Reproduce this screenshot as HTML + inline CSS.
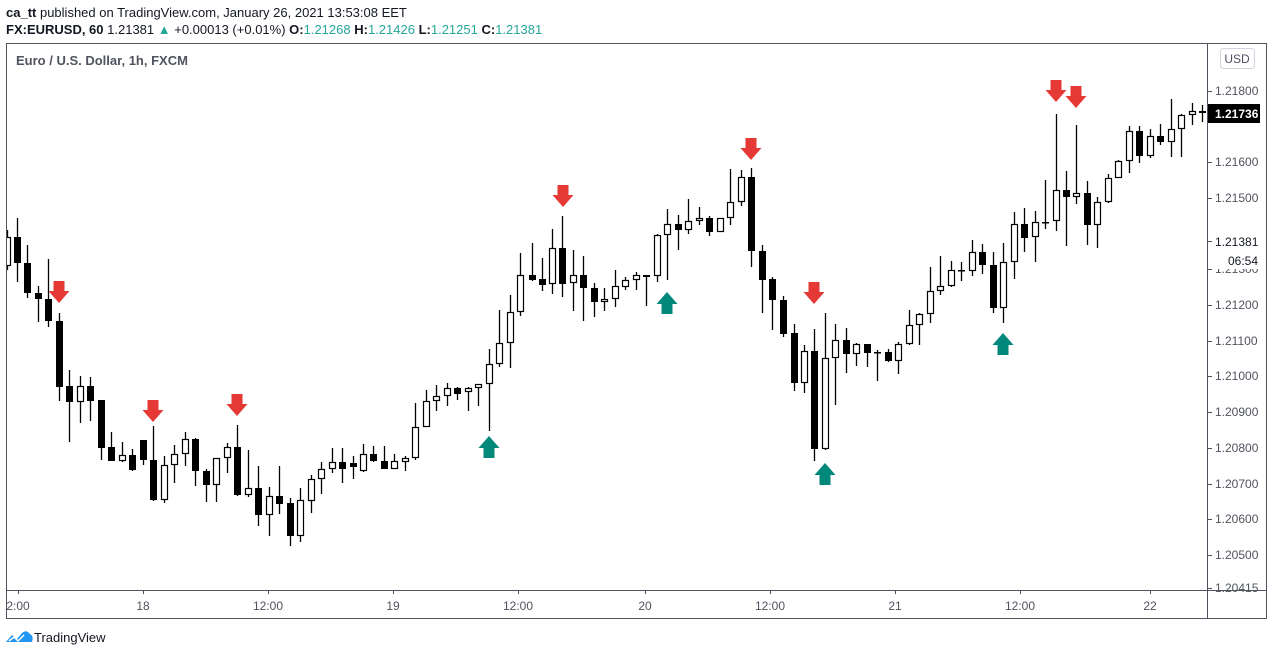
<!DOCTYPE html>
<html><head><meta charset="utf-8"><style>
html,body{margin:0;padding:0;background:#fff;width:1274px;height:656px;overflow:hidden}
svg{display:block}
text{font-family:"Liberation Sans",sans-serif}
</style></head><body>
<svg id="s" width="1274" height="656" xmlns="http://www.w3.org/2000/svg">
<defs><clipPath id="cp"><rect x="7" y="44" width="1200" height="546"/></clipPath></defs>
<text x="6" y="17" font-size="13" fill="#131722"><tspan font-weight="bold">ca_tt</tspan> published on TradingView.com, January 26, 2021 13:53:08 EET</text>
<text x="6" y="34" font-size="13" fill="#131722"><tspan font-weight="bold">FX:EURUSD, 60</tspan> 1.21381 <tspan fill="#26a69a">▲</tspan> +0.00013 (+0.01%) <tspan font-weight="bold">O:</tspan><tspan fill="#26a69a">1.21268</tspan> <tspan font-weight="bold">H:</tspan><tspan fill="#26a69a">1.21426</tspan> <tspan font-weight="bold">L:</tspan><tspan fill="#26a69a">1.21251</tspan> <tspan font-weight="bold">C:</tspan><tspan fill="#26a69a">1.21381</tspan></text>
<rect x="6.5" y="43.5" width="1260" height="575" fill="none" stroke="#50535e" stroke-width="1"/>
<line x1="6.5" y1="590.5" x2="1266.5" y2="590.5" stroke="#50535e"/>
<line x1="1207.5" y1="43.5" x2="1207.5" y2="618.5" stroke="#50535e"/>
<text x="16" y="65" font-size="13" font-weight="bold" fill="#50535e">Euro / U.S. Dollar, 1h, FXCM</text>
<g id="c" clip-path="url(#cp)"></g>
<g id="ax" font-size="12" fill="#50535e"></g>
<rect x="1220.5" y="48.5" width="34" height="20" rx="3" fill="#fff" stroke="#d1d4dc"/>
<text x="1237" y="63" font-size="12" fill="#50535e" text-anchor="middle">USD</text>
<rect x="1208" y="104" width="52" height="19" fill="#000"/>
<text x="1215" y="118" font-size="12" font-weight="bold" fill="#fff">1.21736</text>
<rect x="1208" y="231" width="56" height="38" fill="#fff"/>
<line x1="1207" y1="241.5" x2="1212" y2="241.5" stroke="#50535e"/>
<text x="1215" y="246" font-size="12" fill="#131722">1.21381</text>
<text x="1228" y="265" font-size="12" fill="#131722">06:54</text>
<g transform="translate(6,630)"><path d="M0 12 L6 5 L11 9 L16 3 Q20 -1 24 4 Q28 6 26 12 Z" fill="#2196f3"/><path d="M3 11 L8 7 L12 11 L18 5" stroke="#fff" stroke-width="1.5" fill="none"/></g>
<text x="34" y="642" font-size="13" fill="#131722">TradingView</text>
</svg>
<script>
const C=[[7,230,237,266,270,0],[17,218,237,263,282,1],[27,245,263,293,298,1],[38,286,293,299,322,1],[48,259,299,321,327,1],[59,313,321,387,401,1],[69,370,386,402,442,1],[80,376,386,402,423,0],[90,377,386,401,421,1],[101,400,400,448,460,1],[111,432,447,461,460,1],[122,442,455,461,462,0],[132,449,455,470,471,1],[143,440,440,460,465,1],[153,426,460,500,501,1],[164,456,465,500,503,0],[174,445,454,465,483,0],[185,432,439,454,466,0],[195,438,439,471,486,1],[206,469,471,485,502,1],[216,458,458,485,502,0],[227,443,447,458,473,0],[237,425,447,495,496,1],[248,450,488,495,497,0],[258,466,488,515,526,1],[269,487,496,515,536,0],[279,466,496,504,514,1],[290,498,503,536,546,1],[300,488,500,536,542,0],[311,475,479,501,513,0],[321,462,469,479,494,0],[332,448,462,469,473,0],[342,448,462,469,483,1],[353,456,463,467,479,1],[363,444,454,471,472,0],[373,446,454,461,462,1],[384,446,461,469,469,1],[394,454,461,469,469,0],[405,456,458,462,471,0],[415,403,427,458,460,0],[426,390,401,427,427,0],[436,385,396,401,411,0],[447,383,388,396,406,0],[457,387,388,394,400,1],[468,387,388,392,411,0],[478,384,384,388,406,0],[489,349,364,384,431,0],[499,310,343,364,367,0],[510,295,312,343,368,0],[520,253,275,312,316,0],[532,243,275,280,281,1],[542,258,279,285,291,1],[552,229,248,284,294,0],[562,216,248,284,297,1],[573,250,275,283,311,0],[583,256,275,288,321,1],[594,283,288,302,317,1],[604,288,299,302,311,0],[615,270,286,299,307,0],[625,277,280,287,290,0],[636,272,275,280,290,0],[646,275,275,277,306,1],[657,234,235,276,282,0],[667,209,224,235,280,0],[678,215,224,230,250,1],[688,199,221,230,234,0],[699,207,218,221,225,0],[709,216,218,232,236,1],[720,218,218,232,232,0],[730,169,202,218,225,0],[741,170,177,202,206,0],[751,168,177,251,267,1],[762,245,251,280,313,1],[772,277,279,300,330,1],[783,296,300,334,337,1],[794,324,333,383,391,1],[804,345,351,383,393,0],[814,329,351,449,461,1],[825,313,358,449,450,0],[835,324,340,358,405,0],[846,328,340,354,373,1],[856,343,344,354,366,0],[867,344,344,353,367,1],[877,350,352,353,381,1],[888,349,352,361,362,1],[898,342,344,361,374,0],[909,310,325,344,345,0],[919,313,314,325,345,0],[930,267,291,314,323,0],[940,256,286,291,295,0],[951,261,270,286,287,0],[961,262,270,271,281,1],[972,240,252,271,276,0],[982,244,252,265,274,1],[993,252,265,308,313,1],[1003,243,262,308,323,0],[1014,212,224,262,279,0],[1024,208,224,238,252,1],[1035,211,222,237,262,0],[1045,180,222,223,229,1],[1056,114,190,221,231,0],[1066,171,190,197,246,1],[1076,125,193,197,204,0],[1087,181,193,225,245,1],[1097,197,202,225,248,0],[1108,174,178,202,203,0],[1118,160,161,178,174,0],[1129,126,131,161,173,0],[1139,126,131,156,163,1],[1150,129,136,156,158,0],[1160,124,136,142,145,1],[1171,99,129,142,157,0],[1181,114,115,129,157,0],[1192,103,111,115,125,0],[1202,105,111,113,122,1]];
let h="";
for(const[x,H,t,b,L,bear]of C){
 const lo=Math.max(L,b);
 h+=`<line x1="${x+.5}" y1="${H}" x2="${x+.5}" y2="${lo}" stroke="#000" stroke-width="1.3"/>`;
 const bh=Math.max(b-t,1.5);
 if(bear)h+=`<rect x="${x-3}" y="${t}" width="7" height="${bh}" fill="#000"/>`;
 else h+=`<rect x="${x-2.5}" y="${t+.5}" width="6" height="${Math.max(bh-1,1)}" fill="#fff" stroke="#000" stroke-width="1.2"/>`;
}
const red=[[59,281],[153,400],[237,394],[563,185],[751,138],[814,282],[1056,80],[1076,86]];
for(const[x,y]of red)h+=`<path d="M${x-5.5} ${y} h11 v10 h5 l-10.5 12 l-10.5 -12 h5 z" fill="#e53935"/>`;
const grn=[[489,436],[667,292],[825,463],[1003,333]];
for(const[x,y]of grn)h+=`<path d="M${x-5.5} ${y+22} h11 v-10 h5 l-10.5 -12 l-10.5 12 h5 z" fill="#00897b"/>`;
document.getElementById("c").innerHTML=h;
let a="";
const P=[["1.21800",91],["1.21600",162],["1.21500",198],["1.21300",269],["1.21200",305],["1.21100",341],["1.21000",376],["1.20900",412],["1.20800",448],["1.20700",484],["1.20600",519],["1.20500",555],["1.20415",588]];
for(const[t,y]of P){a+=`<line x1="1207" y1="${y+.5}" x2="1212" y2="${y+.5}" stroke="#50535e"/><text x="1215" y="${y+4}">${t}</text>`;}
const T=[["2:00",18],["18",143],["12:00",268],["19",393],["12:00",518],["20",645],["12:00",770],["21",895],["12:00",1020],["22",1150]];
for(const[t,x]of T){a+=`<line x1="${x+.5}" y1="590" x2="${x+.5}" y2="594" stroke="#50535e"/><text x="${x}" y="610" text-anchor="middle">${t}</text>`;}
document.getElementById("ax").innerHTML=a;
</script>
</body></html>
